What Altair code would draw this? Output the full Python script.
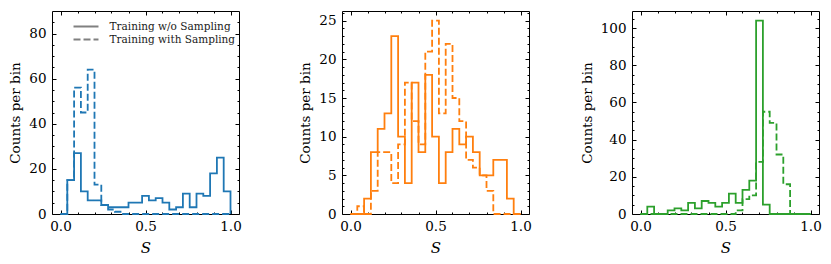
import altair as alt
import pandas as pd

# ---------------- data (counts per bin, 25 bins of width 0.04 on [0, 1]) ----------------
series_names = ["Training w/o Sampling", "Training with Sampling"]
bin_width = 0.04
n_bins = 25

blue_without = [0, 15, 27, 10, 6, 6, 4, 3, 3, 3, 5, 5, 8, 6, 7, 5, 2, 3, 9, 3, 9, 8, 18, 25, 10]
blue_with = [0, 15, 56, 45, 64, 13, 4, 2, 1, 0, 0, 0, 0, 0, 0, 0, 0, 0, 0, 0, 0, 0, 0, 0, 0]

orange_without = [0, 0, 2, 8, 11, 13, 23, 10, 4, 17, 8, 18, 10, 4, 8, 11, 9, 10, 8, 5, 5, 7, 7, 2, 0]
orange_with = [0, 1, 0, 3, 8, 8, 4, 9, 17, 12, 9, 21, 25, 13, 22, 15, 12, 7, 6, 5, 3, 0, 0, 0, 0]

green_without = [0, 4, 0, 0, 2, 3, 2, 6, 3, 7, 6, 4, 6, 11, 6, 13, 18, 104, 5, 0, 0, 0, 0, 0, 0]
green_with = [0, 0, 0, 0, 0, 0, 0, 0, 0, 0, 0, 0, 0, 0, 2, 8, 10, 28, 55, 49, 32, 16, 0, 0, 0]

x_ticks = [0.0, 0.5, 1.0]
x_minor = [0.1, 0.2, 0.3, 0.4, 0.6, 0.7, 0.8, 0.9]
y_ticks_1 = [0, 20, 40, 60, 80]
y_ticks_2 = [0, 5, 10, 15, 20, 25]
y_ticks_3 = [0, 20, 40, 60, 80, 100]
y_max = [90, 26.25, 109.2]

colors = ["#1f77b4", "#ff7f0e", "#2ca02c"]

W, H = 187, 203
FONT = "DejaVu Serif"


def step_table(without, with_):
    rows = []
    edges = [round(bin_width * k, 4) for k in range(n_bins + 1)]
    for name, counts in zip(series_names, [without, with_]):
        o = 0
        rows.append(dict(run=name, S=edges[0], count=0, o=o))
        for k, h in enumerate(counts):
            o += 1
            rows.append(dict(run=name, S=edges[k], count=h, o=o))
            o += 1
            rows.append(dict(run=name, S=edges[k + 1], count=h, o=o))
        o += 1
        rows.append(dict(run=name, S=edges[-1], count=0, o=o))
    return pd.DataFrame(rows)


def minor_ticks(step, majors, top):
    vals = []
    v = step
    while v < top:
        if all(abs(v - m) > 1e-9 for m in majors):
            vals.append(round(v, 4))
        v += step
    return vals


def panel(df, color, ymax, ymajor, ystep, show_legend):
    x_scale = alt.Scale(domain=[-0.05, 1.05], nice=False, zero=False)
    y_scale = alt.Scale(domain=[0, ymax], nice=False, zero=True)
    yminor = minor_ticks(ystep, ymajor, ymax)
    base = alt.Chart(df)

    if show_legend:
        legend = alt.Legend(
            orient="none", legendX=26.5, legendY=8, title=None,
            symbolType="M-2,0H2", symbolStrokeColor="#808080", symbolSize=156,
            symbolStrokeWidth=2, labelFont=FONT, labelFontSize=10.5,
            labelOffset=16, rowPadding=0, padding=0, labelColor="#1a1a1a",
        )
    else:
        legend = None

    lines = base.mark_line(color=color, strokeWidth=1.8).encode(
        x=alt.X("S:Q", scale=x_scale,
                axis=alt.Axis(orient="bottom", values=x_ticks, format=".1f", ticks=False,
                              domain=False, grid=False, labelPadding=5, title="S",
                              titleFontStyle="italic", titlePadding=8, titleFontSize=15)),
        y=alt.Y("count:Q", scale=y_scale,
                axis=alt.Axis(orient="left", values=ymajor, ticks=False, domain=False,
                              grid=False, labelPadding=6, title="Counts per bin",
                              titlePadding=6)),
        strokeDash=alt.StrokeDash("run:N",
                                  scale=alt.Scale(domain=series_names, range=[[1, 0], [7, 3]]),
                                  legend=legend),
        order="o:Q",
    )

    def tick_layer(xorient, xvals, yorient, yvals, size):
        return base.mark_line(strokeOpacity=0).encode(
            x=alt.X("S:Q", scale=x_scale,
                    axis=alt.Axis(orient=xorient, offset=-H, values=xvals, tickSize=size,
                                  labels=False, domain=False, grid=False, title=None,
                                  tickColor="black", tickWidth=1)),
            y=alt.Y("count:Q", scale=y_scale,
                    axis=alt.Axis(orient=yorient, offset=-W, values=yvals, tickSize=size,
                                  labels=False, domain=False, grid=False, title=None,
                                  tickColor="black", tickWidth=1)),
            detail="run:N",
            order="o:Q",
        )

    layers = [
        lines,
        tick_layer("top", x_ticks, "right", ymajor, 4),
        tick_layer("bottom", x_ticks, "left", ymajor, 4),
        tick_layer("top", x_minor, "right", yminor, 2),
        tick_layer("bottom", x_minor, "left", yminor, 2),
    ]
    return alt.layer(*layers).resolve_axis(x="independent", y="independent").properties(
        width=W, height=H
    )


p1 = panel(step_table(blue_without, blue_with), colors[0], y_max[0], y_ticks_1, 5, True)
p2 = panel(step_table(orange_without, orange_with), colors[1], y_max[1], y_ticks_2, 1, False)
p3 = panel(step_table(green_without, green_with), colors[2], y_max[2], y_ticks_3, 5, False)

chart = alt.hconcat(p1, p2, p3, spacing=103, bounds="flush").resolve_scale(
    strokeDash="independent"
).resolve_legend(strokeDash="independent").properties(
    padding={"left": 0, "top": 2, "right": 0, "bottom": 0},
).configure(font=FONT).configure_axis(
    labelFont=FONT, titleFont=FONT, labelFontSize=13.5, titleFontSize=13.5,
    titleFontWeight="normal", labelColor="black", titleColor="black",
).configure_legend(labelFont=FONT).configure_view(stroke="black", strokeWidth=1)

chart.save("out.html", embed_options={"renderer": "svg", "actions": False})
